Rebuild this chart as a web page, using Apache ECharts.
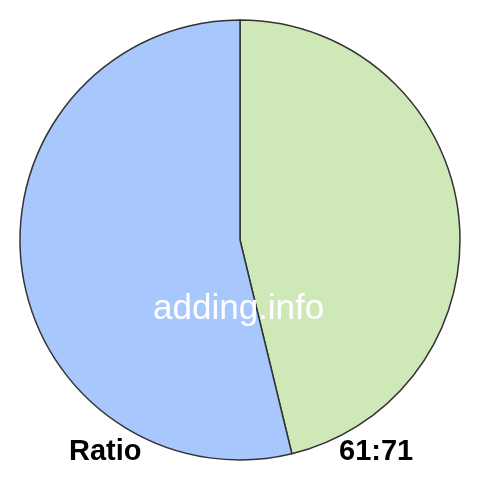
<!DOCTYPE html>
<html><head><meta charset="utf-8">
<script src="https://cdn.jsdelivr.net/npm/echarts@6/dist/echarts.min.js"></script>
<style>html,body{margin:0;padding:0;background:#fff}#c{width:480px;height:480px}</style>
</head><body><div id="c"></div>
<script>
const names = ['61', '71'];
const values = [61, 71];
const colors = ['#cee8b8', '#a8c7fc'];
const watermark = 'adding.info';
const leftLabel = 'Ratio';
const rightLabel = '61:71';

const chart = echarts.init(document.getElementById('c'));
chart.setOption({
  animation: false,
  series: [{
    type: 'pie',
    center: [240, 240],
    radius: 220,
    startAngle: 90,
    clockwise: true,
    silent: true,
    z: 1,
    label: {show: false},
    labelLine: {show: false},
    itemStyle: {borderColor: '#333', borderWidth: 1.5},
    data: values.map((v, i) => ({name: names[i], value: v, itemStyle: {color: colors[i]}}))
  }],
  graphic: [
    {type: 'text', z: 100, left: 153, top: 292, style: {text: watermark, fill: '#fff', font: '35px "Liberation Sans", Arial, sans-serif'}},
    {type: 'text', z: 100, left: 69, top: 437, style: {text: leftLabel, fill: '#000', font: 'bold 29px "Liberation Sans", Arial, sans-serif'}},
    {type: 'text', z: 100, left: 339, top: 437, style: {text: rightLabel, fill: '#000', font: 'bold 29px "Liberation Sans", Arial, sans-serif'}}
  ]
});
</script></body></html>
